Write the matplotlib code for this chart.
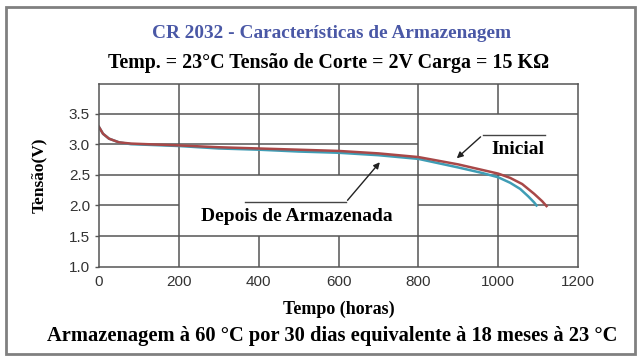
import matplotlib
matplotlib.use("Agg")
import matplotlib.pyplot as plt
from matplotlib.patches import Rectangle

# curve readings (hours, volts)
hours_inicial = [0, 10, 25, 50, 80, 120, 200, 300, 400, 500, 600, 700, 800, 900, 960, 1000, 1030, 1060, 1090, 1110, 1121]
volts_inicial = [3.28, 3.17, 3.09, 3.03, 3.01, 3.0, 2.98, 2.95, 2.93, 2.91, 2.89, 2.85, 2.79, 2.67, 2.58, 2.52, 2.45, 2.35, 2.19, 2.07, 1.99]
hours_depois = [0, 10, 25, 50, 80, 120, 200, 300, 400, 500, 600, 700, 800, 900, 960, 1000, 1030, 1055, 1075, 1090, 1096]
volts_depois = [3.28, 3.17, 3.09, 3.03, 3.0, 2.99, 2.97, 2.93, 2.91, 2.88, 2.86, 2.82, 2.76, 2.62, 2.53, 2.46, 2.37, 2.27, 2.15, 2.05, 2.0]

xticks = [0, 200, 400, 600, 800, 1000, 1200]
yticks = [1.0, 1.5, 2.0, 2.5, 3.0, 3.5]

title = "CR 2032 - Características de Armazenagem"
subtitle = "Temp. = 23°C Tensão de Corte = 2V Carga = 15 KΩ"
note = "Armazenagem à 60 °C por 30 dias equivalente à 18 meses à 23 °C"

serif = "Liberation Serif"
sans = "Liberation Sans"
gridc = "#555555"

fig = plt.figure(figsize=(6.43, 3.61), dpi=100)
ax = fig.add_axes([0.154, 0.261, 0.745, 0.506])

# broken grid, as in the original drawing
ax.hlines(3.5, 0, 1200, color=gridc, lw=1.1)
ax.hlines(3.0, 0, 800, color=gridc, lw=1.1)
ax.hlines(2.5, 0, 1200, color=gridc, lw=1.1)
ax.hlines(2.0, 0, 200, color=gridc, lw=1.1)
ax.hlines(2.0, 800, 1200, color=gridc, lw=1.1)
ax.hlines(1.5, 0, 1200, color=gridc, lw=1.1)
ax.vlines([200, 800], 1.0, 3.98, color=gridc, lw=1.1)
ax.vlines([400, 600], 2.5, 3.98, color=gridc, lw=1.1)
ax.vlines([400, 600], 1.0, 1.5, color=gridc, lw=1.1)
ax.vlines(1000, 3.5, 3.98, color=gridc, lw=1.1)
ax.vlines(1000, 1.0, 2.5, color=gridc, lw=1.1)

ax.plot(hours_depois, volts_depois, color="#3f9db5", lw=1.8)
ax.plot(hours_inicial, volts_inicial, color="#a84848", lw=1.8)

ax.set_xlim(0, 1200)
ax.set_ylim(1.0, 3.98)
ax.set_xticks(xticks)
ax.set_yticks(yticks)
ax.set_yticklabels([f"{v:.1f}" for v in yticks])
ax.tick_params(axis="both", labelsize=11, labelcolor="#333333", color=gridc, length=3, width=1)
ax.tick_params(axis="x", length=0, pad=6)
for lab in ax.get_xticklabels() + ax.get_yticklabels():
    lab.set_family(sans)
for s in ax.spines.values():
    s.set_color(gridc)
    s.set_linewidth(1.1)

# annotations with leader lines
ax.text(1049, 2.91, "Inicial", ha="center", va="center", family=serif, fontweight="bold", fontsize=14)
ax.plot([1117, 961], [3.15, 3.15], color="#444444", lw=1)
ax.annotate("", xy=(891, 2.74), xytext=(961, 3.15),
            arrowprops=dict(arrowstyle="-|>", color="#222222", lw=1, mutation_scale=9))
ax.text(496, 1.82, "Depois de Armazenada", ha="center", va="center", family=serif, fontweight="bold", fontsize=14)
ax.plot([366, 618], [2.05, 2.05], color="#444444", lw=1)
ax.annotate("", xy=(708, 2.74), xytext=(618, 2.05),
            arrowprops=dict(arrowstyle="-|>", color="#222222", lw=1, mutation_scale=9))

ax.set_xlabel("Tempo (horas)", family=serif, fontweight="bold", fontsize=13, labelpad=8)
ax.set_ylabel("Tensão(V)", family=serif, fontweight="bold", fontsize=12.5, labelpad=16)

fig.text(0.516, 1 - 33 / 361, title, ha="center", va="center", family=serif,
         fontweight="bold", fontsize=13.9, color="#4a58a6")
fig.text(0.511, 1 - 63 / 361, subtitle, ha="center", va="center", family=serif,
         fontweight="bold", fontsize=14.4, color="black")
fig.text(0.517, 1 - 336 / 361, note, ha="center", va="center", family=serif,
         fontweight="bold", fontsize=14.8, color="black")

fig.patches.append(Rectangle((6 / 643, 1 - 354 / 361), 629 / 643, 347 / 361,
                             transform=fig.transFigure, fill=False, ec="#808080", lw=2))

fig.savefig("out.png", dpi=100)
